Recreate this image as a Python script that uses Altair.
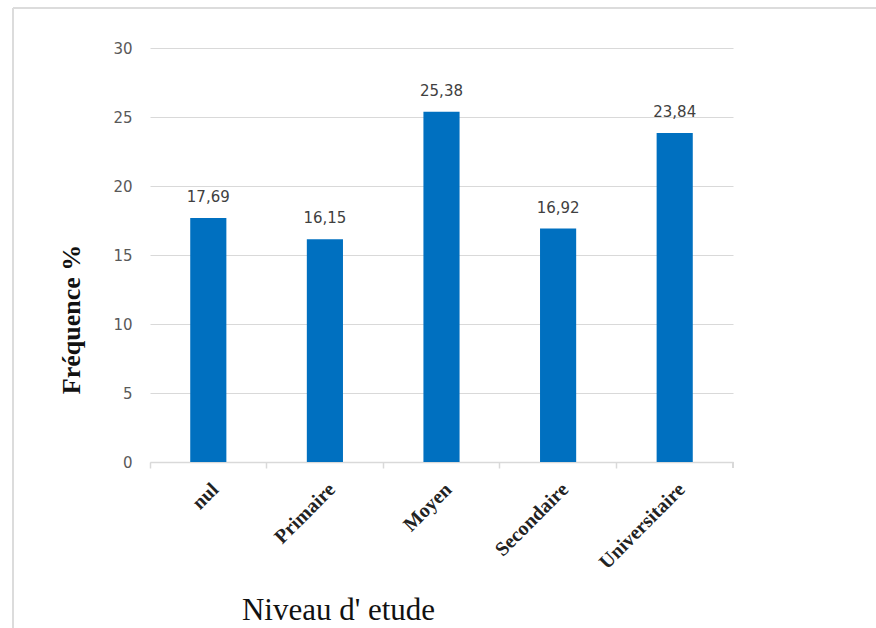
import altair as alt
import pandas as pd

categories = ["nul", "Primaire", "Moyen", "Secondaire", "Universitaire"]
values = [17.69, 16.15, 25.38, 16.92, 23.84]
y_ticks = [0, 5, 10, 15, 20, 25, 30]

df = pd.DataFrame({
    "cat": categories,
    "val": values,
    "lab": [f"{v:.2f}".replace(".", ",") for v in values],
})

W, H = 583, 414
base = alt.Chart(df)

x_enc = alt.X(
    "cat:N",
    sort=categories,
    scale=alt.Scale(paddingInner=0, paddingOuter=0),
    axis=alt.Axis(
        title="Niveau d' etude",
        titleFont="Liberation Serif",
        titleFontSize=31,
        titleFontWeight="normal",
        titleColor="#111111",
        titleX=188,
        titleY=157,
        titleAlign="center",
        titleBaseline="alphabetic",
        labelAngle=-45,
        labelAlign="right",
        labelBaseline="top",
        labelFont="Liberation Serif",
        labelFontWeight="bold",
        labelFontSize=20,
        labelColor="#222222",
        labelPadding=11,
        bandPosition=0,
        domainColor="#d9d9d9",
        domainWidth=1.5,
        tickColor="#d9d9d9",
        tickWidth=1.5,
        tickSize=6,
        grid=False,
    ),
)

y_enc = alt.Y(
    "val:Q",
    scale=alt.Scale(domain=[0, 30]),
    axis=alt.Axis(
        values=y_ticks,
        title="Fréquence %",
        titleFont="Liberation Serif",
        titleFontSize=26,
        titleFontWeight="bold",
        titleColor="#111111",
        titleX=-79,
        titleY=271,
        titleAlign="center",
        titleBaseline="middle",
        labelFont="DejaVu Sans",
        labelFontSize=15,
        labelColor="#595959",
        labelPadding=18,
        domain=False,
        ticks=False,
        grid=True,
        gridColor="#d9d9d9",
        gridWidth=1.2,
    ),
)

bars = base.mark_bar(width=alt.RelativeBandSize(0.31), color="#0070C0").encode(
    x=x_enc, y=y_enc
)

text = base.mark_text(
    dy=-13, baseline="bottom", font="DejaVu Sans", fontSize=15, color="#404040"
).encode(x=alt.X("cat:N", sort=categories), y="val:Q", text="lab:N")

end_tick = alt.Chart(df).mark_rule(color="#d9d9d9", strokeWidth=1.5).encode(
    x=alt.value(W), y=alt.value(H), y2=alt.value(H + 6)
)

border_left = alt.Chart(df).mark_rule(color="#dcdcdc", strokeWidth=2).encode(
    x=alt.value(-137), y=alt.value(-40), y2=alt.value(700)
)
border_top = alt.Chart(df).mark_rule(color="#dcdcdc", strokeWidth=2).encode(
    x=alt.value(-137), x2=alt.value(800), y=alt.value(-40)
)

chart = alt.layer(border_left, border_top, bars, text, end_tick).properties(
    width=W,
    height=H,
    padding={"left": 150, "top": 48, "right": 143, "bottom": 166},
    autosize=alt.AutoSizeParams(type="none"),
    background="white",
).configure_view(stroke=None)

chart.save("out.html", embed_options={"renderer": "svg", "actions": False})
